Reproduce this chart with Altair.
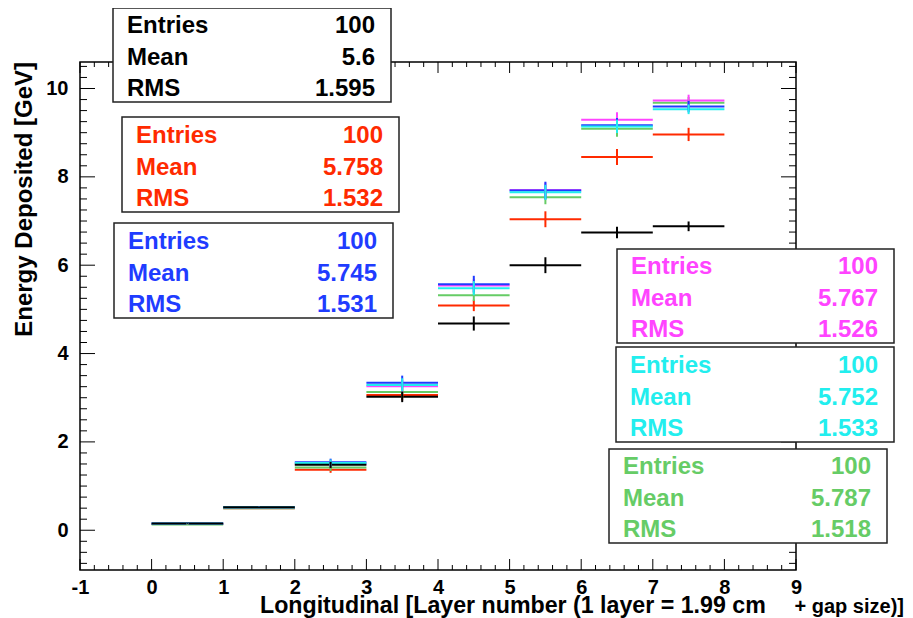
import altair as alt
import pandas as pd

# ---------------- data ----------------
bin_low = [0, 1, 2, 3, 4, 5, 6, 7]
series_names = ["red", "green", "magenta", "blue", "cyan", "black"]

black   = [0.15, 0.52, 1.48, 3.02, 4.68, 6.00, 6.74, 6.88]
red     = [0.14, 0.50, 1.37, 3.06, 5.09, 7.04, 8.45, 8.96]
blue    = [0.15, 0.52, 1.54, 3.34, 5.57, 7.69, 9.17, 9.59]
magenta = [0.15, 0.52, 1.50, 3.26, 5.54, 7.70, 9.29, 9.73]
cyan    = [0.15, 0.52, 1.52, 3.29, 5.48, 7.65, 9.14, 9.53]
green   = [0.13, 0.50, 1.42, 3.13, 5.32, 7.54, 9.09, 9.68]

black_err   = [0.01, 0.02, 0.07, 0.12, 0.16, 0.18, 0.13, 0.11]
red_err     = [0.01, 0.02, 0.07, 0.12, 0.13, 0.18, 0.18, 0.15]
blue_err    = [0.01, 0.02, 0.08, 0.16, 0.19, 0.20, 0.16, 0.13]
magenta_err = [0.01, 0.02, 0.08, 0.14, 0.15, 0.17, 0.17, 0.13]
cyan_err    = [0.01, 0.02, 0.08, 0.15, 0.16, 0.17, 0.15, 0.11]
green_err   = [0.01, 0.02, 0.08, 0.13, 0.13, 0.16, 0.18, 0.13]

stat_series  = ["black", "red", "blue", "magenta", "cyan", "green"]
stat_entries = ["100", "100", "100", "100", "100", "100"]
stat_mean    = ["5.6", "5.758", "5.745", "5.767", "5.752", "5.787"]
stat_rms     = ["1.595", "1.532", "1.531", "1.526", "1.533", "1.518"]
stat_labels  = ["Entries", "Mean", "RMS"]

x_major = list(range(-1, 10))
x_minor = [round(-1 + 0.2 * i, 2) for i in range(51) if i % 5 != 0]
y_major = [0, 2, 4, 6, 8, 10]
y_minor = [round(-0.75 + 0.25 * i, 2) for i in range(46) if round(-0.75 + 0.25 * i, 2) % 2 != 0]

x_title_main = "Longitudinal [Layer number (1 layer = 1.99 cm"
x_title_tail = "+ gap size)]"
y_title = "Energy Deposited [GeV]"

# ---------------- style / layout ----------------
colors = {"black": "#000000", "red": "#ff2a00", "blue": "#1f3cff",
          "magenta": "#ff44ff", "cyan": "#22eeee", "green": "#66cc66"}
W, H = 716, 508
x_dom = [-1, 9]
y_dom = [-0.9, 10.6]
FONT = "Liberation Sans"

box_left   = [33, 42, 34, 537, 536, 529]
box_top    = [-54, 55, 161, 187, 285, 387]
box_right  = [311, 319, 313, 814, 814, 807]
box_bottom = [40, 150, 256, 281, 380, 481]

vals = {"black": (black, black_err), "red": (red, red_err), "blue": (blue, blue_err),
        "magenta": (magenta, magenta_err), "cyan": (cyan, cyan_err), "green": (green, green_err)}

rows = []
for s in series_names:
    v, e = vals[s]
    for lo, vv, ee in zip(bin_low, v, e):
        rows.append(dict(series=s, lo=lo, hi=lo + 1, mid=lo + 0.5, v=vv,
                         elo=vv - ee, ehi=vv + ee))
hist = pd.DataFrame(rows)

xs = alt.Scale(domain=x_dom, nice=False, zero=False)
ys = alt.Scale(domain=y_dom, nice=False, zero=False)
col = alt.Color("series:N", scale=alt.Scale(domain=list(colors.keys()),
                                            range=list(colors.values())), legend=None)

xaxis = alt.Axis(values=x_major, labelExpr="toString(datum.value)", title=None,
                 labelPadding=23, labelBaseline="alphabetic", ticks=False, tickSize=0,
                 labelFlush=False, labelOverlap=False, domain=False, grid=False)
yaxis = alt.Axis(values=y_major, title=None, labelPadding=12, ticks=False, tickSize=0,
                 labelOverlap=False, domain=False, grid=False)

base = alt.Chart(hist)
hlines = base.mark_rule(strokeWidth=2).encode(
    x=alt.X("lo:Q", scale=xs, axis=xaxis), x2="hi:Q",
    y=alt.Y("v:Q", scale=ys, axis=yaxis), color=col)
ebars = base.mark_rule(strokeWidth=2).encode(
    x=alt.X("mid:Q", scale=xs), y=alt.Y("elo:Q", scale=ys), y2="ehi:Q", color=col)

# ticks drawn inward (ROOT style), on all four sides
def xticks(values, length):
    d = alt.Chart(pd.DataFrame({"t": values}))
    bot = d.mark_rule(color="black", strokeWidth=1).encode(
        x=alt.X("t:Q", scale=xs), y=alt.value(H), y2=alt.value(H - length))
    top = d.mark_rule(color="black", strokeWidth=1).encode(
        x=alt.X("t:Q", scale=xs), y=alt.value(0), y2=alt.value(length))
    return [bot, top]

def yticks(values, length):
    d = alt.Chart(pd.DataFrame({"t": values}))
    lft = d.mark_rule(color="black", strokeWidth=1).encode(
        y=alt.Y("t:Q", scale=ys), x=alt.value(0), x2=alt.value(length))
    rgt = d.mark_rule(color="black", strokeWidth=1).encode(
        y=alt.Y("t:Q", scale=ys), x=alt.value(W), x2=alt.value(W - length))
    return [lft, rgt]

ticks = xticks(x_major, 11) + xticks(x_minor, 5) + yticks(y_major, 15) + yticks(y_minor, 7)

# stat boxes
boxes = pd.DataFrame(dict(series=stat_series, L=box_left, T=box_top, R=box_right, B=box_bottom))
box_rect = alt.Chart(boxes).mark_rect(fill="white", stroke="#222222", strokeWidth=1.5).encode(
    x=alt.X("L:Q", scale=None), x2="R:Q", y=alt.Y("T:Q", scale=None), y2="B:Q")

trows = []
for i, s in enumerate(stat_series):
    values = [stat_entries[i], stat_mean[i], stat_rms[i]]
    for k, (lab, val) in enumerate(zip(stat_labels, values)):
        base_y = box_bottom[i] - [69, 37, 6][k]
        trows.append(dict(series=s, px=box_left[i] + 14, py=base_y, txt=lab, side="l"))
        trows.append(dict(series=s, px=box_right[i] - 16, py=base_y, txt=val, side="r"))
stext = pd.DataFrame(trows)
tfont = dict(font=FONT, fontSize=24, fontWeight="bold", baseline="alphabetic")
text_l = alt.Chart(stext[stext.side == "l"]).mark_text(align="left", **tfont).encode(
    x=alt.X("px:Q", scale=None), y=alt.Y("py:Q", scale=None), text="txt:N", color=col)
text_r = alt.Chart(stext[stext.side == "r"]).mark_text(align="right", **tfont).encode(
    x=alt.X("px:Q", scale=None), y=alt.Y("py:Q", scale=None), text="txt:N", color=col)

# axis titles
xt1 = alt.Chart(pd.DataFrame({"t": [x_title_main]})).mark_text(
    font=FONT, fontSize=23.2, fontWeight="bold", align="left",
    baseline="alphabetic", color="black").encode(
    x=alt.value(180), y=alt.value(551), text="t:N")
xt2 = alt.Chart(pd.DataFrame({"t": [x_title_tail]})).mark_text(
    font=FONT, fontSize=20, fontWeight="bold", align="right",
    baseline="alphabetic", color="black").encode(
    x=alt.value(824), y=alt.value(551), text="t:N")
yt = alt.Chart(pd.DataFrame({"t": [y_title]})).mark_text(
    font=FONT, fontSize=24, fontWeight="bold", align="right",
    baseline="middle", angle=270, color="black").encode(
    x=alt.value(-55), y=alt.value(0), text="t:N")

chart = alt.layer(hlines, ebars, *ticks, box_rect, text_l, text_r, xt1, xt2, yt).properties(
    width=W, height=H,
    padding={"left": 72, "top": 54, "right": 109, "bottom": 48},
    autosize=alt.AutoSizeParams(type="none"),
).configure_view(stroke="black", strokeWidth=1.5).configure_axis(
    labelFont=FONT, labelFontSize=20, labelFontWeight="bold",
    labelColor="black")

chart.save("out.html", embed_options={"renderer": "svg", "actions": False})
